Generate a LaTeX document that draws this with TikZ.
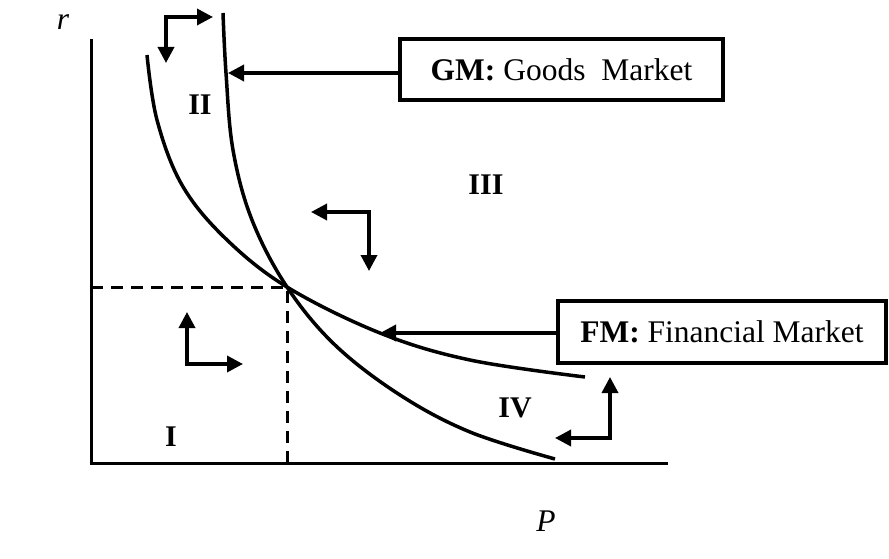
\documentclass[tikz,border=0pt]{standalone}
\usepackage{fontspec}
\setmainfont{Liberation Serif}
\usetikzlibrary{arrows.meta}
\begin{document}
\begin{tikzpicture}[x=1pt,y=-1pt,
  txt/.style={font=\fontsize{31.5}{36}\selectfont, inner sep=0pt},
  num/.style={font=\fontsize{30}{34}\selectfont\bfseries, inner sep=0pt},
  axis/.style={line width=3pt},
  curve/.style={line width=3.5pt},
  guide/.style={line width=3pt, dash pattern=on 12pt off 8pt},
  labelbox/.style={draw, line width=3.5pt, inner sep=0pt, font=\fontsize{31.5}{36}\selectfont},
  arr/.style={line width=3.5pt, -{Triangle[length=16pt,width=16pt]}},
  dirarr/.style={line width=3.5pt, {Triangle[length=16pt,width=16pt]}-{Triangle[length=16pt,width=16pt]}}
]
\useasboundingbox (0,0) rectangle (889,559);
% axes
\coordinate (o) at (91,463);
\coordinate (ytop) at (91,39);
\coordinate (xend) at (668,463);
\draw[axis] (ytop) -- (o) -- (xend);
\node[txt, font=\fontsize{31.5}{36}\selectfont\itshape] (rlab) at (63,22) {r};
\node[txt, font=\fontsize{31.5}{36}\selectfont\itshape] (plab) at (546,521) {P};
% equilibrium
\coordinate (eq) at (287,287);
\coordinate (eqy) at (91,287);
\coordinate (eqx) at (287,463);
\draw[guide] (eqy) -- (eq) -- (eqx);
% curves
\draw[curve] plot[smooth, tension=0.6] coordinates {(147,55) (157,120) (182,185) (225,238) (287,287) (380,333) (470,360) (585,377)};
\draw[curve] plot[smooth, tension=0.6] coordinates {(223,13) (226,73) (233,150) (252,220) (287,287) (335,345) (400,395) (470,432) (555,459)};
% region labels
\node[num] (r2) at (200,105) {II};
\node[num] (r3) at (486,185) {III};
\node[num] (r4) at (515,408) {IV};
\node[num] (r1) at (171,437) {I};
% boxes
\node[labelbox, minimum width=323pt, minimum height=61pt] (gm) at (561.5,69.5) {\textbf{GM:} Goods\ \ Market};
\node[labelbox, minimum width=328pt, minimum height=62pt] (fm) at (722,332) {\textbf{FM:} Financial Market};
\coordinate (gmtip) at (228,73);
\coordinate (fmtip) at (380,333);
\draw[arr] (gmtip -| gm.west) -- (gmtip);
\draw[arr] (fmtip -| fm.west) -- (fmtip);
% direction arrows
\coordinate (a1s) at (166,63);
\coordinate (a1c) at (166,17);
\coordinate (a1e) at (213,17);
\draw[dirarr] (a1s) -- (a1c) -- (a1e);
\coordinate (a2s) at (311,212);
\coordinate (a2c) at (369,212);
\coordinate (a2e) at (369,271);
\draw[dirarr] (a2s) -- (a2c) -- (a2e);
\coordinate (a3s) at (187,312);
\coordinate (a3c) at (187,364);
\coordinate (a3e) at (243,364);
\draw[dirarr] (a3s) -- (a3c) -- (a3e);
\coordinate (a4s) at (610,377);
\coordinate (a4c) at (610,438);
\coordinate (a4e) at (555,438);
\draw[dirarr] (a4s) -- (a4c) -- (a4e);
\end{tikzpicture}
\end{document}
